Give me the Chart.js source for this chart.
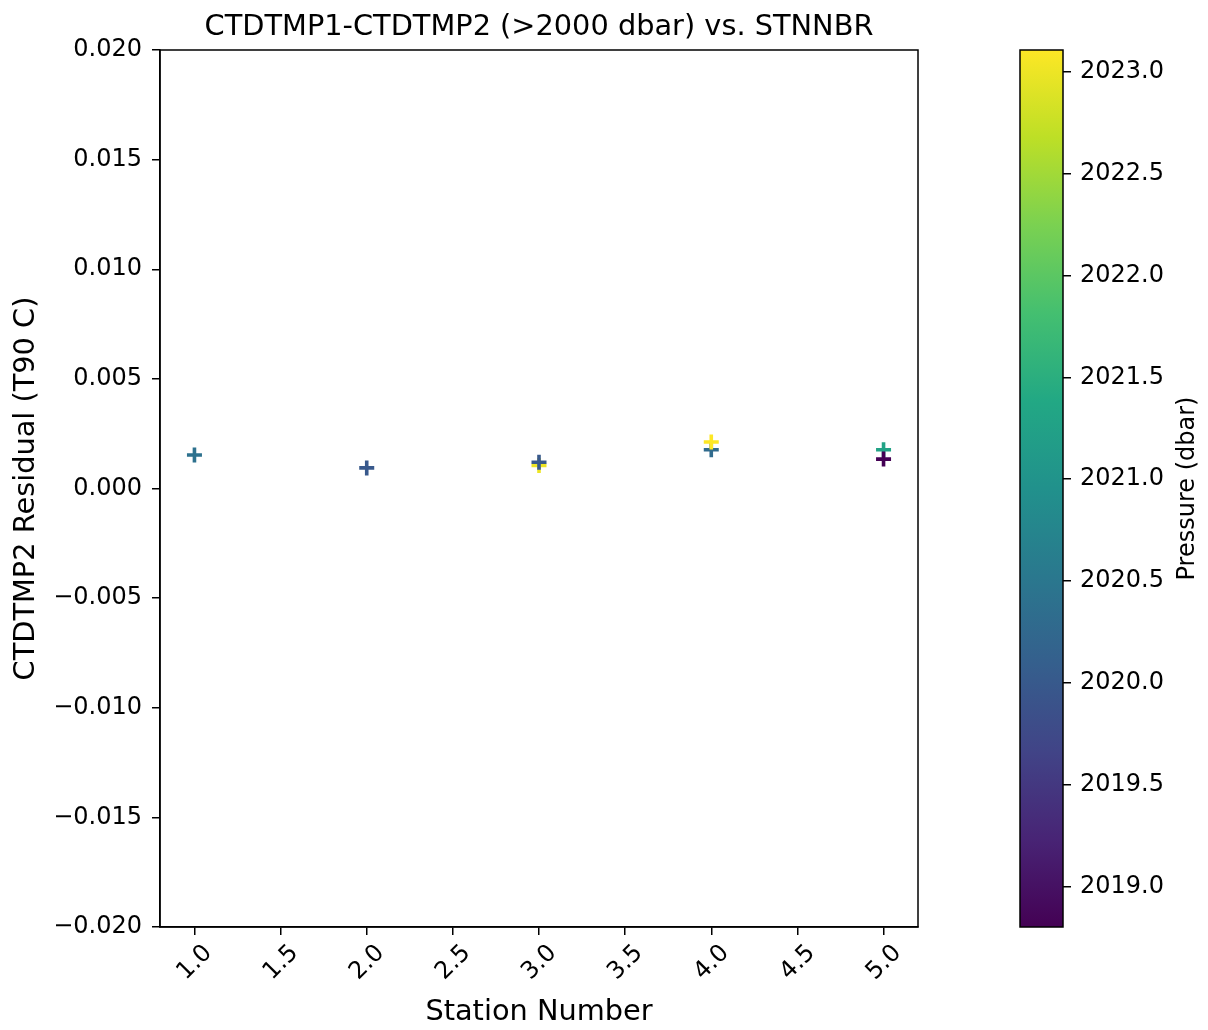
<!DOCTYPE html>
<html>
<head>
<meta charset="utf-8">
<script src="https://cdn.jsdelivr.net/npm/chart.js@4.4.1/dist/chart.umd.min.js"></script>
<style>
  html, body { margin: 0; padding: 0; background: #fff; }
  #wrap { position: relative; width: 1208px; height: 1030px; }
  canvas { position: absolute; top: 0; }
  #mainChart { left: 0; }
  #cbChart { left: 1000px; }
</style>
</head>
<body>
<div id="wrap">
  <canvas id="mainChart" width="1208" height="1030"></canvas>
  <canvas id="cbChart" width="208" height="1030"></canvas>
</div>
<script>
// residual data (station, residual, pressure)
const stations  = [1, 2, 3, 3, 4, 4, 5, 5];
const residuals = [0.00153, 0.00094, 0.00105, 0.00120, 0.00177, 0.00212, 0.00177, 0.00134];
const pressures = [2020.4, 2020.0, 2023.0, 2020.0, 2020.3, 2023.108, 2021.3, 2018.8];

const xTicks  = [1.0, 1.5, 2.0, 2.5, 3.0, 3.5, 4.0, 4.5, 5.0];
const yTicks  = [-0.020, -0.015, -0.010, -0.005, 0.000, 0.005, 0.010, 0.015, 0.020];
const cbTicks = [2019.0, 2019.5, 2020.0, 2020.5, 2021.0, 2021.5, 2022.0, 2022.5, 2023.0];

const cbMin = 2018.8, cbMax = 2023.108;

const viridisStops = ['#440154', '#482475', '#414487', '#355f8d', '#2a788e',
                      '#21918c', '#22a884', '#44bf70', '#7ad151', '#bddf26', '#fde725'];

function hexToRgb(h) {
    return [parseInt(h.slice(1, 3), 16), parseInt(h.slice(3, 5), 16), parseInt(h.slice(5, 7), 16)];
}

function viridis(t) {
    t = Math.max(0, Math.min(1, t));
    const pos = t * (viridisStops.length - 1);
    const i = Math.min(Math.floor(pos), viridisStops.length - 2);
    const f = pos - i;
    const a = hexToRgb(viridisStops[i]), b = hexToRgb(viridisStops[i + 1]);
    const c = a.map((v, k) => Math.round(v + (b[k] - v) * f));
    return `rgb(${c[0]},${c[1]},${c[2]})`;
}

const pointColors = pressures.map(p => viridis((p - cbMin) / (cbMax - cbMin)));
const minus = s => s.replace('-', '\u2212');

Chart.defaults.font.family = 'DejaVu Sans';
Chart.defaults.color = '#000';

const FONT_TICK = 24;
const FONT_LABEL = 28.8;

// draw the top/right spines that chart.js doesn't
const framePlugin = {
    id: 'frame',
    afterDraw(chart) {
        const { ctx, chartArea: a } = chart;
        ctx.save();
        ctx.strokeStyle = '#000';
        ctx.lineWidth = 1.5;
        ctx.strokeRect(a.left, a.top, a.right - a.left, a.bottom - a.top);
        ctx.restore();
    }
};

new Chart(document.getElementById('mainChart'), {
    type: 'scatter',
    data: {
        datasets: [{
            data: stations.map((s, i) => ({ x: s, y: residuals[i] })),
            pointStyle: 'cross',
            pointRadius: 7.5,
            pointHoverRadius: 7.5,
            borderWidth: 3.6,
            borderColor: pointColors,
            backgroundColor: pointColors
        }]
    },
    options: {
        responsive: false,
        animation: false,
        devicePixelRatio: 1,
        layout: { padding: { left: 0, right: 290, top: 0, bottom: 0 } },
        plugins: {
            legend: { display: false },
            tooltip: { enabled: false },
            title: {
                display: true,
                fullSize: false,
                text: 'CTDTMP1-CTDTMP2 (>2000 dbar) vs. STNNBR',
                color: '#000',
                font: { size: FONT_LABEL, weight: 'normal' },
                padding: { top: 10, bottom: 5.44 }
            }
        },
        scales: {
            x: {
                type: 'linear',
                min: 0.8,
                max: 5.2,
                afterBuildTicks: s => { s.ticks = xTicks.map(v => ({ value: v })); },
                afterFit: s => { s.height = 103; },
                grid: { display: true, drawOnChartArea: false, drawTicks: true, tickLength: 8, color: '#000', lineWidth: 1.5 },
                border: { display: true, color: '#000', width: 1.5 },
                ticks: {
                    minRotation: 45,
                    maxRotation: 45,
                    labelOffset: 14,
                    padding: 4,
                    font: { size: FONT_TICK },
                    callback: v => v.toFixed(1)
                },
                title: {
                    display: true,
                    text: 'Station Number',
                    font: { size: FONT_LABEL },
                    padding: { top: 0, bottom: 0 }
                }
            },
            y: {
                type: 'linear',
                min: -0.02,
                max: 0.02,
                afterBuildTicks: s => { s.ticks = yTicks.map(v => ({ value: v })); },
                afterFit: s => { s.width = 160; },
                grid: { display: true, drawOnChartArea: false, drawTicks: true, tickLength: 8, color: '#000', lineWidth: 1.5 },
                border: { display: true, color: '#000', width: 1.5 },
                ticks: {
                    padding: 10,
                    font: { size: FONT_TICK },
                    callback: v => minus(v.toFixed(3))
                },
                title: {
                    display: true,
                    text: 'CTDTMP2 Residual (T90 C)',
                    font: { size: FONT_LABEL },
                    padding: { top: 9, bottom: 0 }
                }
            }
        }
    },
    plugins: [framePlugin]
});

// colorbar: gradient filled through the pressure scale
const colorbarPlugin = {
    id: 'colorbar',
    beforeDatasetsDraw(chart) {
        const { ctx, chartArea: a, scales } = chart;
        const y0 = scales.y.getPixelForValue(cbMin);
        const y1 = scales.y.getPixelForValue(cbMax);
        const grad = ctx.createLinearGradient(0, y0, 0, y1);
        viridisStops.forEach((c, i) => grad.addColorStop(i / (viridisStops.length - 1), c));
        ctx.save();
        ctx.fillStyle = grad;
        ctx.fillRect(a.left, y1, a.right - a.left, y0 - y1);
        ctx.strokeStyle = '#000';
        ctx.lineWidth = 1.5;
        ctx.strokeRect(a.left, a.top, a.right - a.left, a.bottom - a.top);
        // label reads bottom-to-top like matplotlib
        ctx.translate(188, (a.top + a.bottom) / 2);
        ctx.rotate(-Math.PI / 2);
        ctx.font = `${FONT_TICK}px "DejaVu Sans"`;
        ctx.fillStyle = '#000';
        ctx.textAlign = 'center';
        ctx.textBaseline = 'middle';
        ctx.fillText('Pressure (dbar)', 0, 0);
        ctx.restore();
    }
};

new Chart(document.getElementById('cbChart'), {
    type: 'scatter',
    data: { datasets: [{ data: [] }] },
    options: {
        responsive: false,
        animation: false,
        devicePixelRatio: 1,
        layout: { padding: { left: 20, right: 0, top: 50, bottom: 103 } },
        plugins: { legend: { display: false }, tooltip: { enabled: false } },
        scales: {
            x: { display: false, min: 0, max: 1 },
            y: {
                position: 'right',
                min: cbMin,
                max: cbMax,
                afterBuildTicks: s => { s.ticks = cbTicks.map(v => ({ value: v })); },
                afterFit: s => { s.width = 145; },
                grid: { display: true, drawOnChartArea: false, drawTicks: true, tickLength: 8, color: '#000', lineWidth: 1.5 },
                border: { display: false },
                ticks: {
                    padding: 9,
                    font: { size: FONT_TICK },
                    callback: v => v.toFixed(1)
                }
            }
        }
    },
    plugins: [colorbarPlugin]
});
</script>
</body>
</html>
